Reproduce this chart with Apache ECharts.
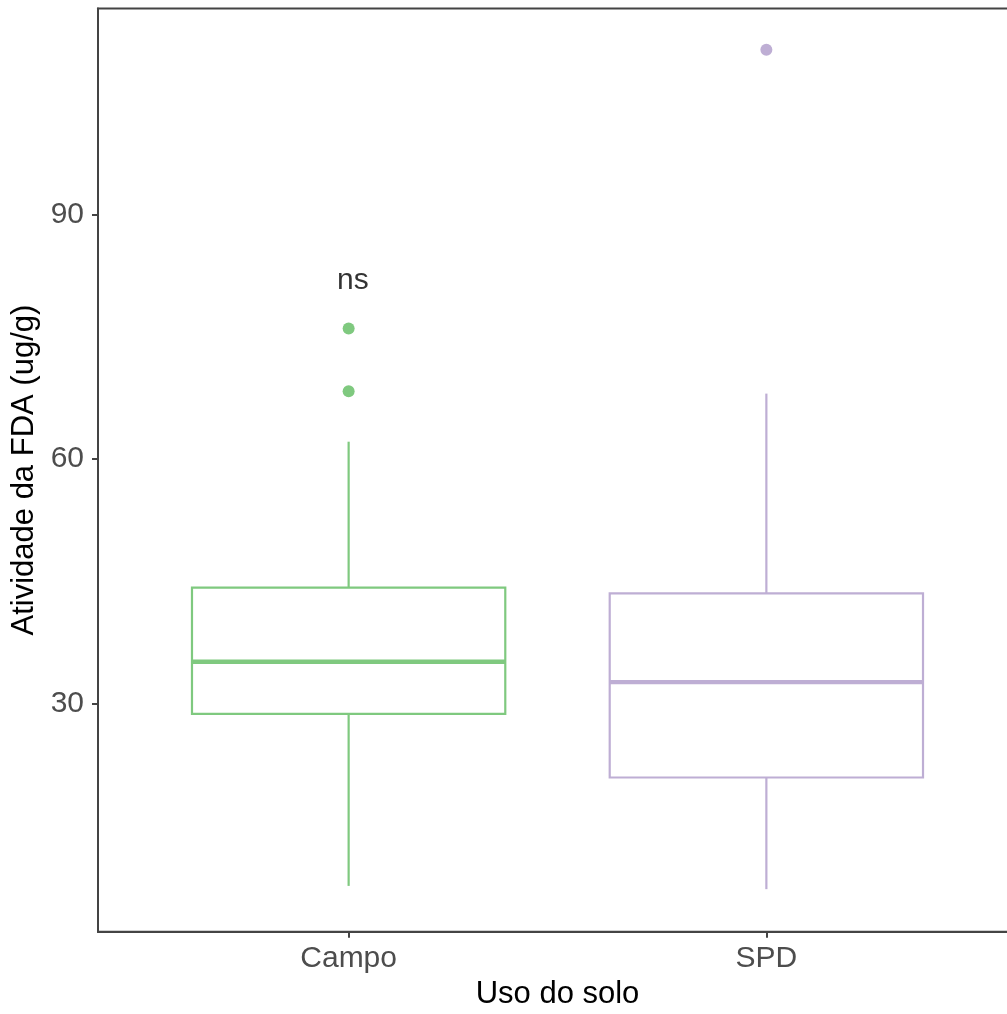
<!DOCTYPE html>
<html>
<head>
<meta charset="utf-8">
<script src="https://cdn.jsdelivr.net/npm/echarts@6/dist/echarts.min.js"></script>
<style>
html,body{margin:0;padding:0;background:#fff;}
#chart{width:1007px;height:1014px;}
</style>
</head>
<body>
<div id="chart"></div>
<script>
// ---- data ----
const categories = ['Campo', 'SPD'];
const whiskerLow  = [7.6, 7.2];
const q1          = [28.7, 20.9];
const median      = [35.1, 32.6];
const q3          = [44.2, 43.5];
const whiskerHigh = [62.1, 68.0];
const outliersCampo = [76.0, 68.3];
const outliersSPD   = [110.2];
const yTicks = [30, 60, 90];
const colors = ['#7FC97F', '#BEAED4'];
const annotation = { text: 'ns', x: 1.01, y: 81.9 };

const FONT = '"Liberation Sans", Arial, sans-serif';

const boxData = categories.map((c, i) => [i + 1, whiskerLow[i], q1[i], median[i], q3[i], whiskerHigh[i]]);
const outlierData = [
  ...outliersCampo.map(v => ({ value: [1, v], itemStyle: { color: colors[0], opacity: 1 } })),
  ...outliersSPD.map(v => ({ value: [2, v], itemStyle: { color: colors[1], opacity: 1 } }))
];

function renderBox(params, api) {
  const x = api.value(0);
  const lo = api.coord([x, api.value(1)]);
  const b1 = api.coord([x, api.value(2)]);
  const md = api.coord([x, api.value(3)]);
  const b3 = api.coord([x, api.value(4)]);
  const hi = api.coord([x, api.value(5)]);
  const w = api.size([0.75, 0])[0];
  const col = colors[params.dataIndex];
  const cx = lo[0];
  return {
    type: 'group',
    children: [
      { type: 'line', shape: { x1: cx, y1: hi[1], x2: cx, y2: b3[1] }, style: { stroke: col, lineWidth: 2.2 } },
      { type: 'line', shape: { x1: cx, y1: b1[1], x2: cx, y2: lo[1] }, style: { stroke: col, lineWidth: 2.2 } },
      { type: 'rect', shape: { x: cx - w / 2, y: b3[1], width: w, height: b1[1] - b3[1] }, style: { fill: '#fff', stroke: col, lineWidth: 2.2 } },
      { type: 'line', shape: { x1: cx - w / 2, y1: md[1], x2: cx + w / 2, y2: md[1] }, style: { stroke: col, lineWidth: 4.4 } }
    ]
  };
}

const chart = echarts.init(document.getElementById('chart'), null, { renderer: 'canvas' });
chart.setOption({
  backgroundColor: '#fff',
  animation: false,
  grid: { left: 98, top: 8.5, width: 919, height: 923.2, outerBoundsMode: 'none', containLabel: false,
    show: true, borderColor: '#444', borderWidth: 2, backgroundColor: 'transparent' },
  xAxis: {
    type: 'value', min: 0.4, max: 2.6,
    name: 'Uso do solo', nameLocation: 'middle', nameGap: 45,
    nameTextStyle: { fontFamily: FONT, fontSize: 31, color: '#000' },
    axisLine: { show: true, lineStyle: { color: '#444', width: 2 } },
    axisTick: { show: true, customValues: [1, 2], length: 6, lineStyle: { color: '#444', width: 2 } },
    axisLabel: { customValues: [1, 2], margin: 12, fontFamily: FONT, fontSize: 30, color: '#4D4D4D',
      formatter: v => categories[Math.round(v) - 1] || '' },
    splitLine: { show: false }
  },
  yAxis: {
    type: 'value', min: 1.98, max: 115.25,
    name: 'Atividade da FDA (ug/g)', nameLocation: 'middle', nameGap: 46, nameRotate: 90,
    nameTextStyle: { fontFamily: FONT, fontSize: 31, color: '#000' },
    axisLine: { show: true, lineStyle: { color: '#444', width: 2 } },
    axisTick: { show: true, customValues: yTicks, length: 6, lineStyle: { color: '#444', width: 2 } },
    axisLabel: { customValues: yTicks, margin: 14, fontFamily: FONT, fontSize: 30, color: '#4D4D4D' },
    splitLine: { show: false }
  },
  series: [
    { type: 'custom', renderItem: renderBox, data: boxData, encode: { x: 0, y: [1, 2, 3, 4, 5] }, z: 2 },
    { type: 'scatter', data: outlierData, symbol: 'circle', symbolSize: 12, z: 3 },
    { type: 'scatter', data: [[annotation.x, annotation.y]], symbolSize: 0, z: 4,
      label: { show: true, position: [0, 0], align: 'center', verticalAlign: 'middle', formatter: annotation.text,
        fontFamily: FONT, fontSize: 30, color: '#000', textBorderWidth: 0 } }
  ]
});
</script>
</body>
</html>
